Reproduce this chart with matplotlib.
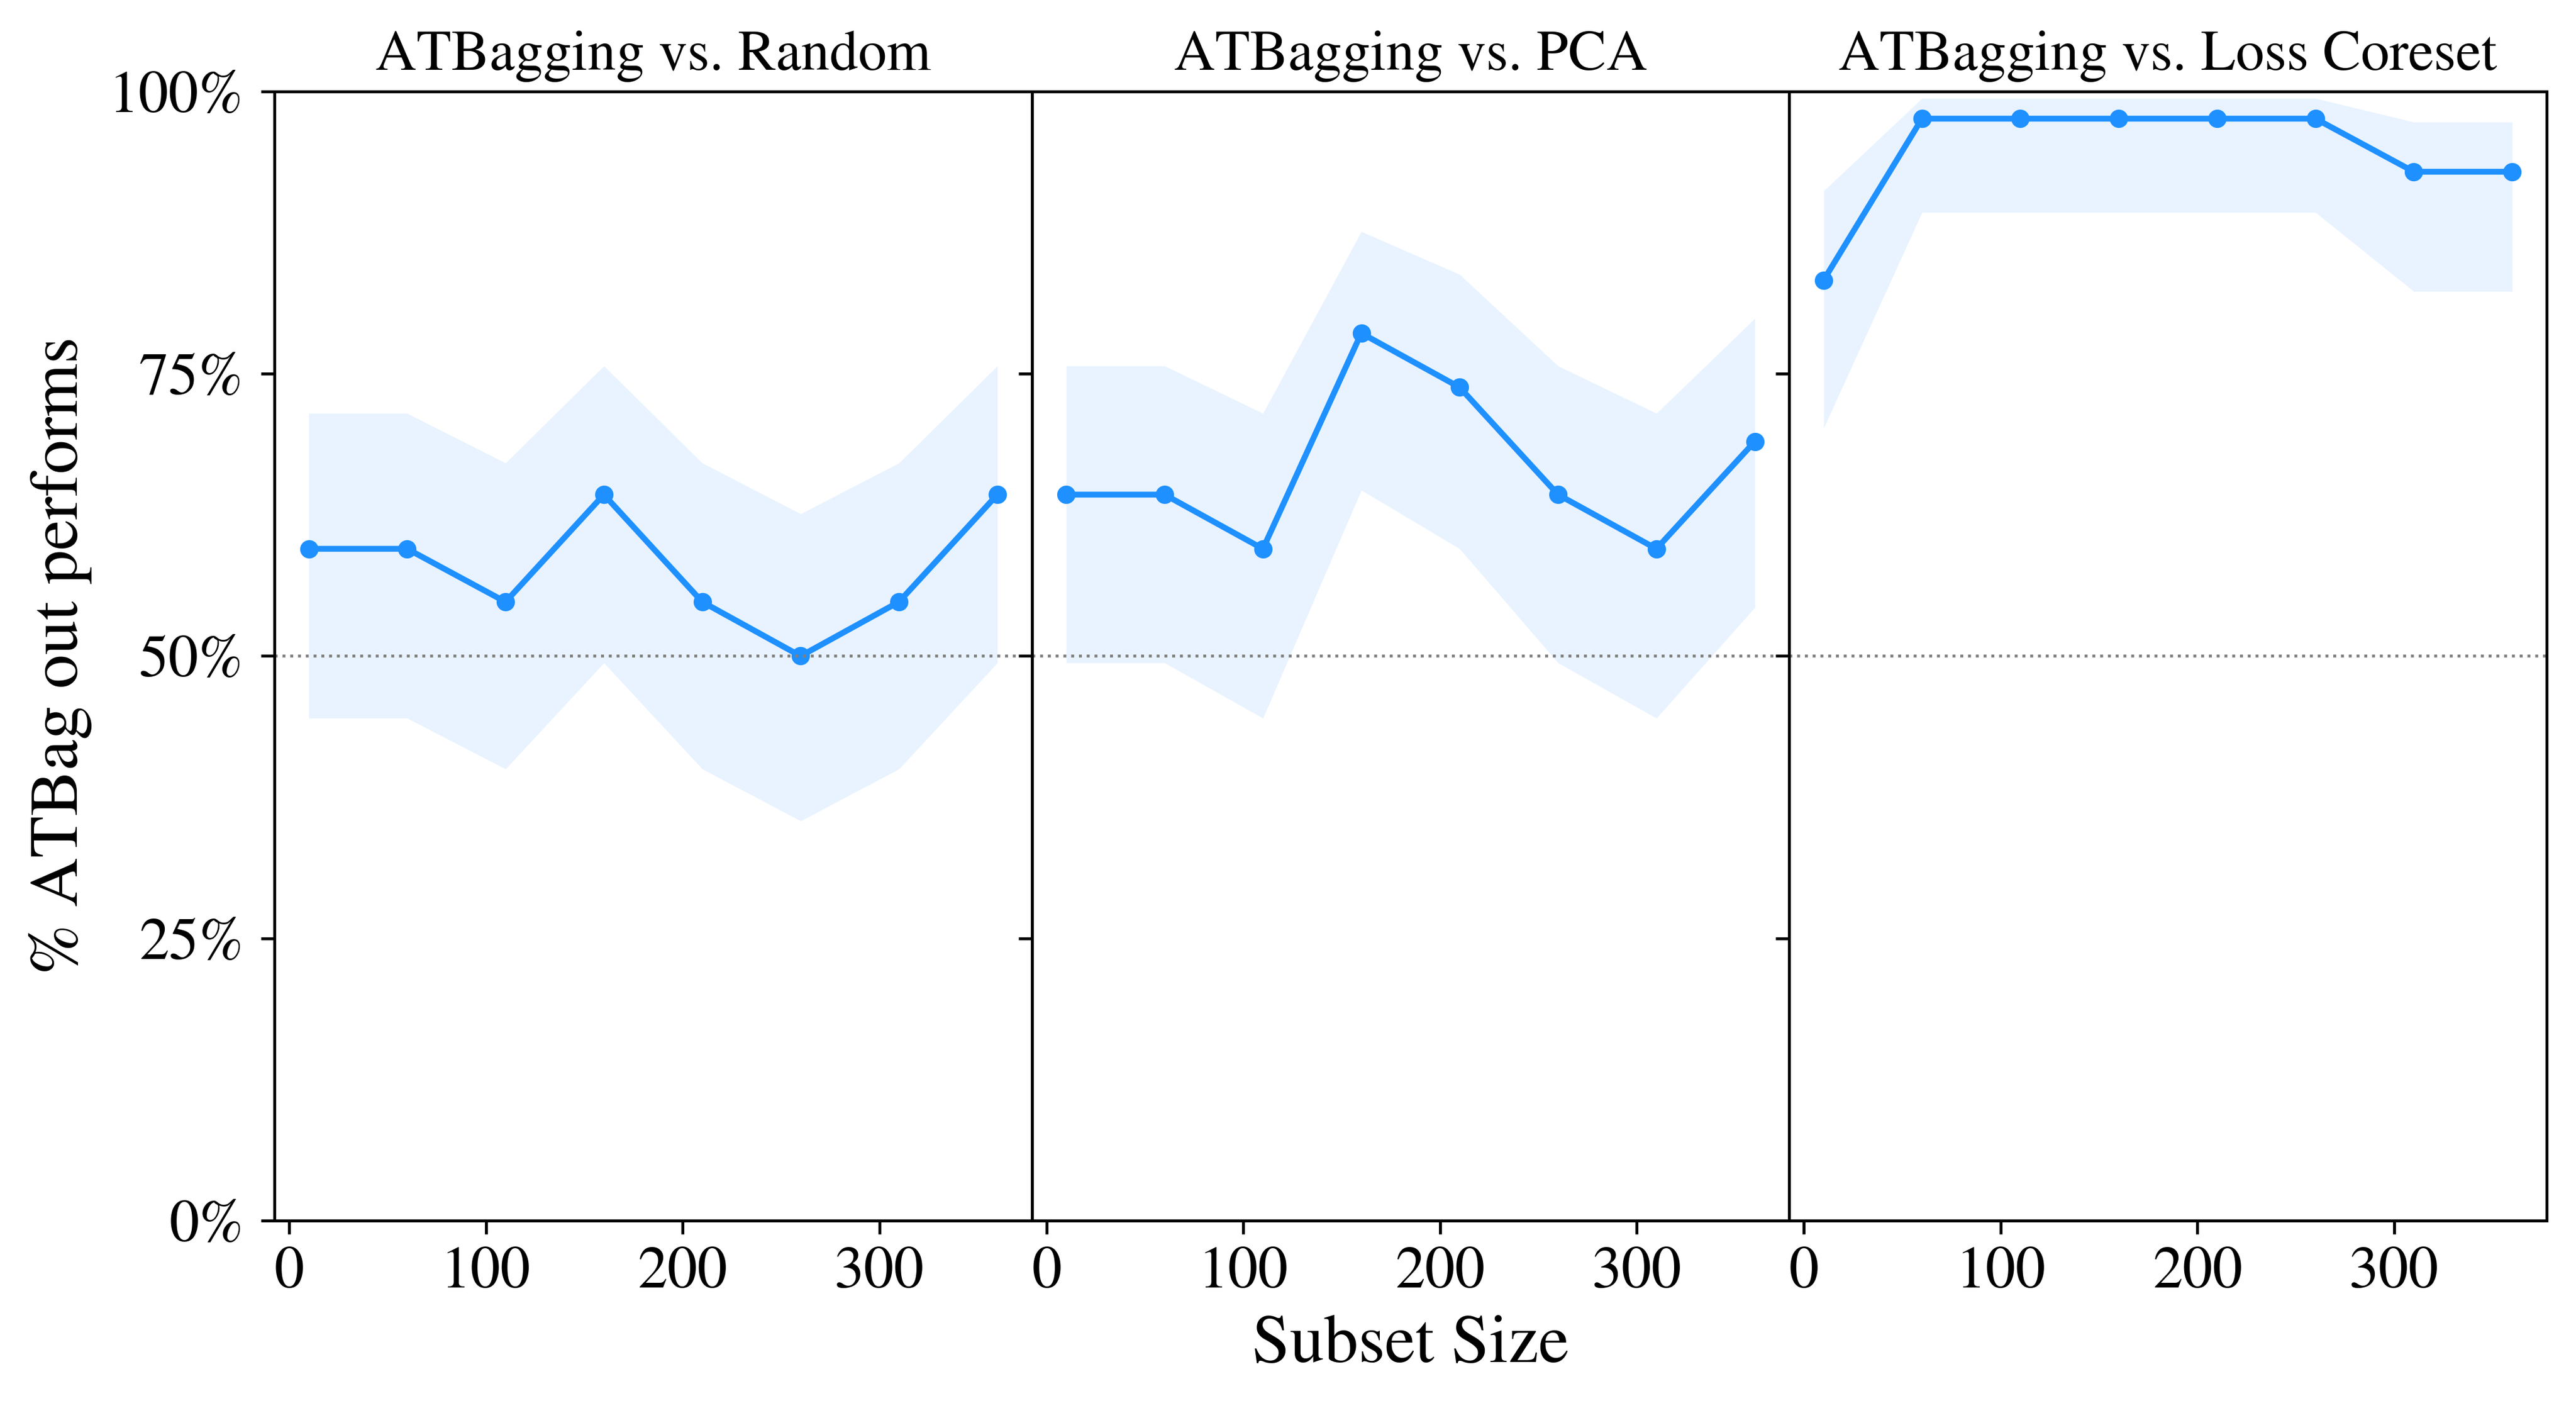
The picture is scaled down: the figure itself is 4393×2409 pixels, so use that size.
import matplotlib
matplotlib.use("Agg")
import matplotlib.pyplot as plt
import numpy as np
from matplotlib.ticker import PercentFormatter

# subset sizes
subset = [10, 60, 110, 160, 210, 260, 310, 360]

titles = ["ATBagging vs. Random", "ATBagging vs. PCA", "ATBagging vs. Loss Coreset"]

# fraction of runs where ATBag wins (mean) and band edges
random_mean = [0.595, 0.595, 0.548, 0.643, 0.548, 0.500, 0.548, 0.643]
random_low = [0.445, 0.445, 0.400, 0.494, 0.400, 0.354, 0.400, 0.494]
random_high = [0.715, 0.715, 0.671, 0.757, 0.671, 0.626, 0.671, 0.757]

pca_mean = [0.643, 0.643, 0.595, 0.786, 0.738, 0.643, 0.595, 0.690]
pca_low = [0.494, 0.494, 0.445, 0.647, 0.595, 0.494, 0.445, 0.543]
pca_high = [0.757, 0.757, 0.715, 0.876, 0.838, 0.757, 0.715, 0.799]

loss_mean = [0.833, 0.976, 0.976, 0.976, 0.976, 0.976, 0.929, 0.929]
loss_low = [0.702, 0.893, 0.893, 0.893, 0.893, 0.893, 0.823, 0.823]
loss_high = [0.912, 0.994, 0.994, 0.994, 0.994, 0.994, 0.973, 0.973]

means = [random_mean, pca_mean, loss_mean]
lows = [random_low, pca_low, loss_low]
highs = [random_high, pca_high, loss_high]

plt.rcParams['font.family'] = 'STIXGeneral'
plt.rcParams['mathtext.fontset'] = 'stix'

fig, axes = plt.subplots(1, 3, sharey=True, figsize=(4393/300, 2409/300), dpi=300)
fig.subplots_adjust(left=0.1065, right=0.9886, top=0.9352, bottom=0.1362, wspace=0)

col = "#1E90FF"
for ax, t, m, lo, hi in zip(axes, titles, means, lows, highs):
    ax.fill_between(subset, lo, hi, color=col, alpha=0.1, linewidth=0)
    ax.plot(subset, m, color=col, linewidth=2.4, marker="o", markersize=6.5)
    ax.axhline(0.5, color="gray", linestyle=":", linewidth=1.2)
    ax.set_title(t, fontsize=23.3, pad=9)
    ax.set_xticks([0, 100, 200, 300])
    ax.tick_params(axis="both", labelsize=24.5, length=5.5, width=1.2)
    ax.tick_params(axis="x", pad=5)
    ax.tick_params(axis="y", pad=7)
    for s in ax.spines.values():
        s.set_linewidth(1.2)

axes[0].set_ylim(0, 1)
axes[0].set_yticks([0, 0.25, 0.5, 0.75, 1.0])
axes[0].yaxis.set_major_formatter(PercentFormatter(1.0, decimals=0))
axes[0].set_ylabel("% ATBag out performs", fontsize=28, labelpad=7)
axes[1].set_xlabel("Subset Size", fontsize=28, labelpad=6)

fig.savefig("out.png", dpi=300)
